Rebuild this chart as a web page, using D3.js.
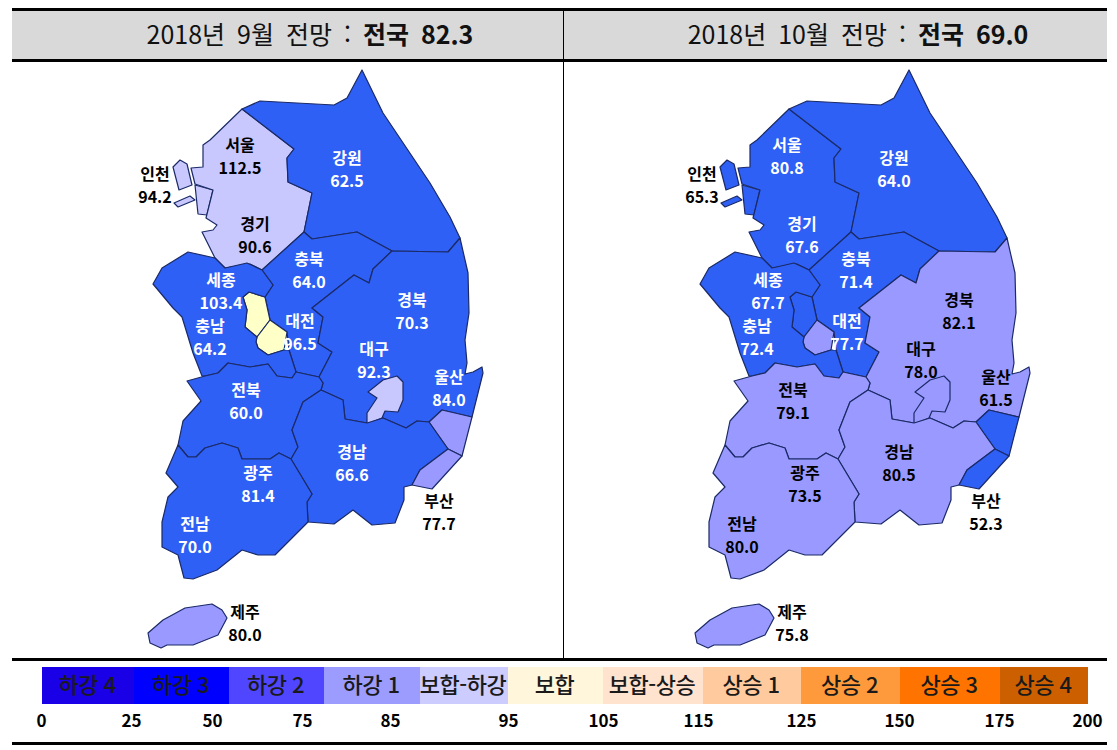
<!DOCTYPE html>
<html lang="ko">
<head>
<meta charset="utf-8">
<title>2018 전망</title>
<script src="https://cdn.jsdelivr.net/npm/d3@7"></script>
<style>
  html, body { margin: 0; background: #fff; }
  svg { display: block; }
  text { font-family: "Noto Sans CJK KR", "Noto Sans", sans-serif; }
</style>
</head>
<body>
<svg id="chart"></svg>
<script>
// data
const regions = ['서울', '인천', '경기', '강원', '충북', '세종', '대전', '충남', '경북', '대구', '울산', '전북', '경남', '광주', '전남', '부산', '제주'];
const valuesSep = [112.5, 94.2, 90.6, 62.5, 64.0, 103.4, 96.5, 64.2, 70.3, 92.3, 84.0, 60.0, 66.6, 81.4, 70.0, 77.7, 80.0];
const valuesOct = [80.8, 65.3, 67.6, 64.0, 71.4, 67.7, 77.7, 72.4, 82.1, 78.0, 61.5, 79.1, 80.5, 73.5, 80.0, 52.3, 75.8];
const panelMonths = ['2018년 9월 전망 : ', '2018년 10월 전망 : '];
const panelTotals = ['전국 82.3', '전국 69.0'];
const legendNames = ['하강 4', '하강 3', '하강 2', '하강 1', '보합-하강', '보합', '보합-상승', '상승 1', '상승 2', '상승 3', '상승 4'];
const legendBreaks = [0, 25, 50, 75, 85, 95, 105, 115, 125, 150, 175, 200];
const legendColors = ['#1a00e6', '#0000ff', '#5046ff', '#9c9cff', '#ccccff', '#fff6dc', '#ffe3cf', '#ffcb9e', '#ff9a3c', '#ff7300', '#cc6000'];
const mapColors = ['#1a00e6', '#0000ff', '#2e60f5', '#9999ff', '#c8c8ff', '#ffffc8', '#ffd2a5', '#ffcb9e', '#ff9a3c', '#ff7300', '#cc6000'];

// regions whose labels are black, all others are white
const darkLabelsSep = ['서울', '인천', '경기', '부산', '제주'];
const darkLabelsOct = ['인천', '경북', '대구', '울산', '전북', '경남', '광주', '전남', '부산', '제주'];

// map outlines, one list of rings per region, in map units
const regionShapes = {
  '서울': [[[215,192],[218,187],[223,187],[236,177],[245,177],[245,187],[252,195],[247,203],[230,207],[223,202]]],
  '인천': [
    [[173,167],[180,160],[187,164],[192,185],[179,190]],
    [[174,203],[190,196],[195,200],[178,207]],
    [[195,185],[213,190],[207,215],[198,214]]
  ],
  '경기': [[[242,109],[294,149],[287,158],[288,182],[312,193],[304,232],[262,270],[250,264],[225,268],[215,258],[202,232],[213,230],[217,225],[206,218],[213,190],[195,184],[191,168],[203,167],[203,145],[210,140]]],
  '강원': [[[242,109],[260,101],[334,105],[347,98],[362,70],[383,113],[430,183],[450,217],[460,238],[448,252],[392,251],[357,232],[312,239],[304,232],[312,193],[288,182],[287,158],[294,149]]],
  '충북': [[[262,270],[304,232],[312,239],[357,232],[392,251],[373,269],[369,283],[354,275],[312,308],[323,317],[318,343],[332,352],[319,377],[296,372],[289,350],[287,332],[270,320],[265,297],[273,285]]],
  '세종': [[[243,297],[249,292],[265,297],[270,320],[257,337],[245,327],[247,310]]],
  '대전': [[[270,320],[287,332],[284,350],[268,355],[258,348],[256,342],[257,337]]],
  '충남': [[[153,284],[162,268],[188,252],[215,258],[225,268],[247,263],[262,270],[273,285],[265,297],[249,292],[243,297],[247,310],[245,327],[257,337],[256,342],[258,348],[268,355],[284,350],[289,350],[296,372],[292,378],[277,376],[268,364],[250,367],[228,363],[218,373],[205,376],[202,376],[193,353],[182,317],[173,308]]],
  '경북': [[[392,251],[448,252],[460,238],[468,273],[469,313],[465,340],[467,363],[465,374],[473,372],[482,367],[483,373],[472,417],[442,410],[429,422],[417,421],[406,428],[383,418],[367,423],[345,419],[343,400],[321,390],[323,383],[319,377],[332,352],[318,343],[323,317],[312,308],[354,275],[369,283],[373,269]]],
  '대구': [[[397,376],[403,382],[403,400],[398,412],[385,411],[382,418],[367,424],[367,413],[377,398],[368,392],[383,380]]],
  '울산': [[[442,410],[472,417],[462,456],[448,449],[429,422]]],
  '전북': [[[187,381],[205,376],[218,373],[228,363],[250,367],[268,364],[277,376],[292,378],[296,372],[319,377],[323,383],[321,390],[303,402],[292,430],[298,447],[291,459],[279,453],[270,459],[242,459],[238,448],[222,443],[205,448],[196,457],[188,457],[178,445],[183,421],[201,401]]],
  '경남': [[[321,390],[343,400],[345,419],[367,423],[383,418],[406,428],[417,421],[429,422],[448,449],[420,470],[412,485],[404,487],[404,500],[395,523],[372,525],[353,510],[334,524],[308,522],[307,502],[312,494],[291,459],[298,447],[292,430],[303,402]]],
  '광주': [[[198,483],[210,472],[217,476],[229,471],[241,482],[232,493],[216,498],[207,492]]],
  '전남': [[[178,445],[188,457],[196,457],[205,448],[222,443],[238,448],[242,459],[270,459],[279,453],[291,459],[312,494],[307,502],[308,522],[275,555],[258,555],[242,550],[217,570],[193,579],[184,578],[178,555],[162,547],[162,522],[168,497],[178,487],[166,473]]],
  '부산': [[[448,449],[462,456],[432,489],[412,485],[420,470]]],
  '제주': [[[148,633],[163,620],[185,608],[212,604],[222,610],[227,618],[218,635],[193,645],[167,645],[161,648],[150,643]]]
};

// where each label pair sits on the map
const labelAnchors = {
  '서울': [240, 145], '인천': [155, 174], '경기': [255, 224], '강원': [347, 158], '충북': [309, 259],
  '세종': [221, 280], '대전': [300, 321], '충남': [210, 326], '경북': [412, 300], '대구': [374, 349],
  '울산': [449, 377], '전북': [246, 390], '경남': [352, 452], '광주': [258, 473], '전남': [195, 524],
  '부산': [439, 501], '제주': [245, 612]
};

// set up constants
const width = 1117;
const height = 750;
const left = 12;
const right = 1107;
const titleCenter = [310, 858];

const svg = d3.select('#chart')
  .attr('width', width)
  .attr('height', height)
  .attr('viewBox', `0 0 ${width} ${height}`);

// header band
svg.append('rect')
  .attr('x', left).attr('y', 10)
  .attr('width', right - left).attr('height', 50)
  .attr('fill', '#d9d9d9');

// value -> colour bins
const mapColor = d3.scaleThreshold().domain(legendBreaks.slice(1, -1)).range(mapColors);

// one map per month
function drawPanel(values, darkLabels, shift) {
  const g = svg.append('g');
  const path = d3.geoPath(d3.geoIdentity().translate([shift, 0]));
  const rows = regions.map((name, i) => ({ name, value: values[i] }));

  g.selectAll('path')
    .data(rows)
    .enter()
    .append('path')
    .attr('d', d => path({
      type: 'MultiPolygon',
      coordinates: regionShapes[d.name].map(ring => [ring.concat([ring[0]])])
    }))
    .attr('fill', d => mapColor(d.value))
    .attr('stroke', '#1b2a66')
    .attr('stroke-width', 1.2)
    .attr('stroke-linejoin', 'round');

  const labels = g.selectAll('g.label')
    .data(rows)
    .enter()
    .append('g')
    .attr('class', 'label')
    .attr('transform', d => `translate(${labelAnchors[d.name][0] + shift}, ${labelAnchors[d.name][1]})`)
    .attr('fill', d => darkLabels.includes(d.name) ? '#000' : '#fff')
    .attr('text-anchor', 'middle')
    .attr('font-weight', 700)
    .attr('font-size', 16);

  labels.append('text')
    .attr('y', 6)
    .text(d => d.name);

  labels.append('text')
    .attr('y', 29)
    .text(d => d.value.toFixed(1));
}

drawPanel(valuesSep, darkLabelsSep, 0);
drawPanel(valuesOct, darkLabelsOct, 547);

// titles
panelMonths.forEach((month, i) => {
  const title = svg.append('text')
    .attr('x', titleCenter[i])
    .attr('y', 44)
    .attr('text-anchor', 'middle')
    .attr('font-size', 25)
    .attr('fill', '#111')
    .attr('word-spacing', 5);
  title.append('tspan').text(month);
  title.append('tspan').attr('font-weight', 700).text(panelTotals[i]);
});

// rules
const rules = [[left, 9.5, right, 9.5, 3], [left, 60.5, right, 60.5, 3], [left, 659.5, right, 659.5, 3], [left, 743.5, right, 743.5, 3], [563.5, 10, 563.5, 659, 1]];
svg.selectAll('line.rule')
  .data(rules)
  .enter()
  .append('line')
  .attr('class', 'rule')
  .attr('x1', d => d[0]).attr('y1', d => d[1])
  .attr('x2', d => d[2]).attr('y2', d => d[3])
  .attr('stroke', '#000')
  .attr('stroke-width', d => d[4]);

// legend: the bands and the tick labels are spaced unevenly, so piecewise scales
const bandX = d3.scaleLinear()
  .domain(legendBreaks)
  .range([42, 134, 229, 324, 420, 508, 603, 703, 801, 900, 1000, 1088]);
const tickX = d3.scaleLinear()
  .domain(legendBreaks)
  .range([41, 131, 212, 302, 390, 508, 603, 698, 801, 899, 999, 1087]);

const bands = legendNames.map((name, i) => ({ name, from: legendBreaks[i], to: legendBreaks[i + 1], color: legendColors[i] }));

const legend = svg.append('g');
legend.selectAll('rect')
  .data(bands)
  .enter()
  .append('rect')
  .attr('x', d => bandX(d.from))
  .attr('y', 667)
  .attr('width', d => bandX(d.to) - bandX(d.from))
  .attr('height', 37)
  .attr('fill', d => d.color);

legend.selectAll('text')
  .data(bands)
  .enter()
  .append('text')
  .attr('x', d => (bandX(d.from) + bandX(d.to)) / 2 - 1)
  .attr('y', 693)
  .attr('text-anchor', 'middle')
  .attr('font-size', 22)
  .attr('font-weight', 500)
  .attr('letter-spacing', -0.5)
  .attr('fill', '#1a1a1a')
  .text(d => d.name);

const axis = svg.append('g')
  .attr('transform', 'translate(0, 712)')
  .call(d3.axisBottom(tickX).tickValues(legendBreaks).tickFormat(d3.format('d')).tickSize(0));
axis.select('.domain').remove();
axis.selectAll('text')
  .attr('font-family', '"Noto Sans CJK KR", sans-serif')
  .attr('font-weight', 700)
  .attr('font-size', 17)
  .attr('fill', '#000');
</script>
</body>
</html>
